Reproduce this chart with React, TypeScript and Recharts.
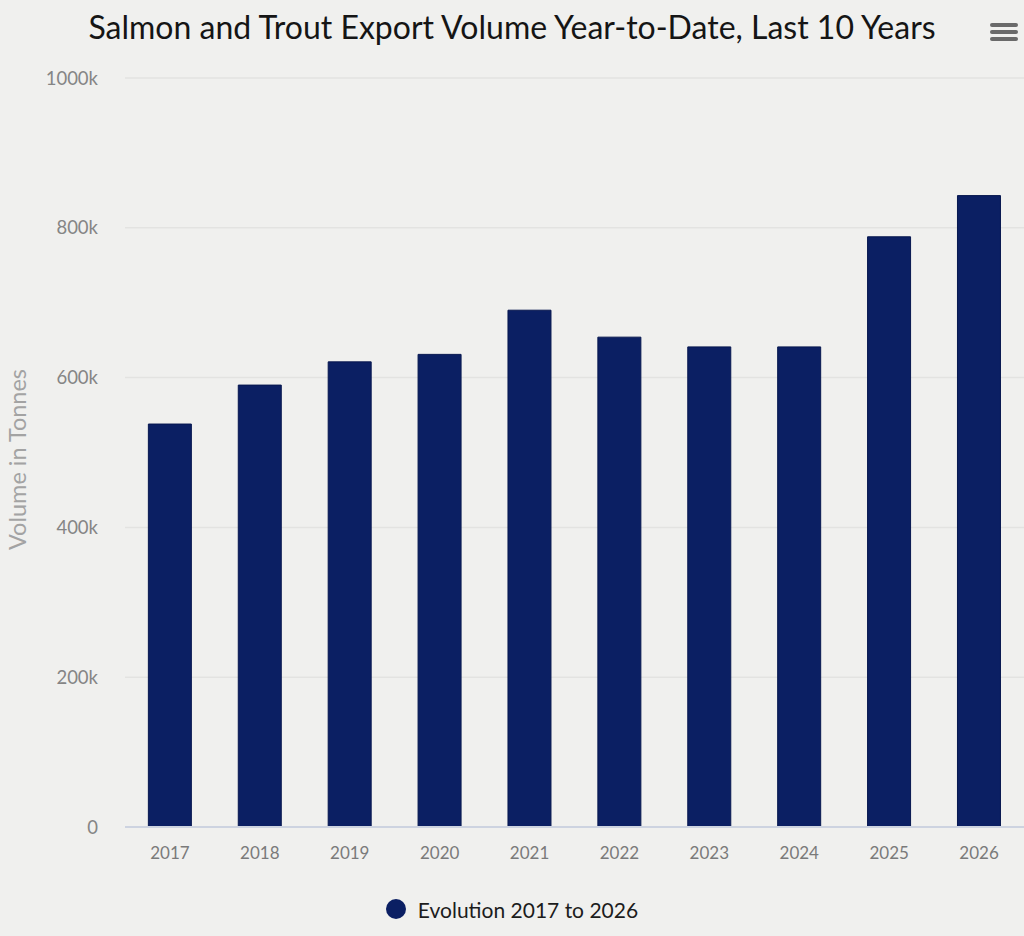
import { BarChart, Bar, XAxis, YAxis, CartesianGrid, Legend } from "recharts";

const years = ["2017", "2018", "2019", "2020", "2021", "2022", "2023", "2024", "2025", "2026"];
const volumes = [538000, 590000, 621000, 631000, 690000, 654000, 641000, 641000, 788000, 843000];
const yTicks = [0, 200000, 400000, 600000, 800000, 1000000];
const seriesName = "Evolution 2017 to 2026";

const data = years.map((year, i) => ({ year, volume: volumes[i] }));

const FONT = "Lato, 'Open Sans', sans-serif";
const BAR = "#0b1f63";

const fmtK = (v: number) => (v === 0 ? "0" : `${v / 1000}k`);

const YLabel = ({ viewBox }: any) => {
  const cy = viewBox.y + viewBox.height / 2 + 7;
  return (
    <text x={17} y={cy} transform={`rotate(-90 17 ${cy})`} textAnchor="middle" dominantBaseline="central"
      style={{ fontFamily: FONT, fontSize: 23.5, fill: "#a3a3a3" }}>
      Volume in Tonnes
    </text>
  );
};

const CustomLegend = ({ payload }: any) => (
  <div style={{ height: 69, paddingTop: 30, boxSizing: "border-box", display: "flex", justifyContent: "center" }}>
    {payload?.map((entry: any, i: number) => (
      <div key={i} style={{ display: "flex", alignItems: "center", gap: 12, height: 24 }}>
        <div style={{ width: 20, height: 20, borderRadius: "50%", background: BAR }} />
        <span style={{ fontFamily: FONT, fontSize: 21, color: "#1c1c1c" }}>{entry.value}</span>
      </div>
    ))}
  </div>
);

export default function App() {
  return (
    <div style={{ position: "relative", width: 1024, height: 936, background: "#f0f0ee", overflow: "hidden" }}>
      <style>{`body{margin:0;background:#f0f0ee}`}</style>
      <div style={{ position: "absolute", top: 7, left: 0, width: 1024, textAlign: "center", fontFamily: FONT,
        fontSize: 32, color: "#151515", lineHeight: "40px" }}>
        Salmon and Trout Export Volume Year-to-Date, Last 10 Years
      </div>
      <div style={{ position: "absolute", top: 23, left: 990, width: 28 }}>
        {[0, 1, 2].map((i) => (
          <div key={i} style={{ height: 4, borderRadius: 2, background: "#6a6a6a", marginBottom: 3 }} />
        ))}
      </div>
      <BarChart width={1024} height={936} data={data} margin={{ top: 78, right: 0, bottom: 0, left: 0 }} barCategoryGap="26%">
        <CartesianGrid vertical={false} stroke="#e3e3e1" strokeWidth={1.5} />
        <XAxis dataKey="year" height={40} tickLine={false} tickMargin={14} axisLine={{ stroke: "#cdd3e0", strokeWidth: 2 }}
          tick={{ fontFamily: FONT, fontSize: 17, fill: "#7a7a7a" }} interval={0} />
        <YAxis width={125} domain={[0, 1000000]} ticks={yTicks} tickFormatter={fmtK} axisLine={false} tickLine={false}
          tickMargin={21} tick={{ fontFamily: FONT, fontSize: 18.5, fill: "#858585" }} label={<YLabel />} />
        <Legend verticalAlign="bottom" align="center" content={<CustomLegend />} />
        <Bar dataKey="volume" name={seriesName} fill={BAR} stroke="#07174f" strokeWidth={1} isAnimationActive={false} />
      </BarChart>
    </div>
  );
}
